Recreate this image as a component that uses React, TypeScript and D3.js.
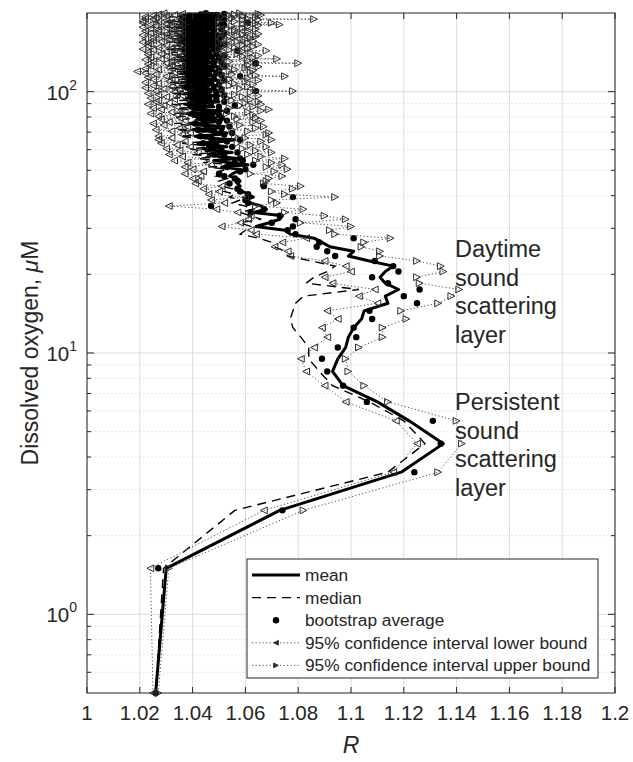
import React from 'react';
import * as d3 from 'd3';

// Oxygen bin centres (µM)
const oxygen = [
  0.5, 1.5, 2.5, 3.5, 4.5, 5.5, 6.5, 7.5, 8.5, 9.5,
  10.5, 11.5, 12.5, 13.5, 14.5, 15.5, 16.5, 17.5, 18.5, 19.5,
  20.5, 21.5, 22.5, 23.5, 24.5, 25.5, 26.5, 27.5, 28.5, 29.5,
  30.5, 31.5, 32.5, 33.5, 34.5, 35.5, 36.5, 37.5, 38.5, 39.5,
  40.5, 41.5, 42.5, 43.5, 44.5, 45.5, 46.5, 47.5, 48.5, 49.5,
  50.5, 51.5, 52.5, 53.5, 54.5, 55.5, 56.5, 57.5, 58.5, 59.5,
  60.5, 61.5, 62.5, 63.5, 64.5, 65.5, 66.5, 67.5, 68.5, 69.5,
  70.5, 71.5, 72.5, 73.5, 74.5, 75.5, 76.5, 77.5, 78.5, 79.5,
  80.5, 81.5, 82.5, 83.5, 84.5, 85.5, 86.5, 87.5, 88.5, 89.5,
  90.5, 91.5, 92.5, 93.5, 94.5, 95.5, 96.5, 97.5, 98.5, 99.5,
  100.5, 101.5, 102.5, 103.5, 104.5, 105.5, 106.5, 107.5, 108.5, 109.5,
  110.5, 111.5, 112.5, 113.5, 114.5, 115.5, 116.5, 117.5, 118.5, 119.5,
  120.5, 121.5, 122.5, 123.5, 124.5, 125.5, 126.5, 127.5, 128.5, 129.5,
  130.5, 131.5, 132.5, 133.5, 134.5, 135.5, 136.5, 137.5, 138.5, 139.5,
  140.5, 141.5, 142.5, 143.5, 144.5, 145.5, 146.5, 147.5, 148.5, 149.5,
  150.5, 151.5, 152.5, 153.5, 154.5, 155.5, 156.5, 157.5, 158.5, 159.5,
  160.5, 161.5, 162.5, 163.5, 164.5, 165.5, 166.5, 167.5, 168.5, 169.5,
  170.5, 171.5, 172.5, 173.5, 174.5, 175.5, 176.5, 177.5, 178.5, 179.5,
  180.5, 181.5, 182.5, 183.5, 184.5, 185.5, 186.5, 187.5, 188.5, 189.5,
  190.5, 191.5, 192.5, 193.5, 194.5, 195.5, 196.5, 197.5, 198.5, 199.5,
];

const meanR = [
  1.026, 1.030, 1.073, 1.119, 1.135, 1.122, 1.110, 1.097, 1.093, 1.095,
  1.098, 1.099, 1.101, 1.104, 1.105, 1.114, 1.113, 1.118, 1.113, 1.111,
  1.113, 1.116, 1.107, 1.099, 1.101, 1.092, 1.089, 1.086, 1.077, 1.075,
  1.064, 1.069, 1.073, 1.074, 1.063, 1.068, 1.066, 1.062, 1.060, 1.063,
  1.061, 1.059, 1.057, 1.058, 1.057, 1.058, 1.057, 1.054, 1.055, 1.057,
  1.058, 1.051, 1.061, 1.054, 1.048, 1.057, 1.050, 1.046, 1.055, 1.049,
  1.044, 1.053, 1.047, 1.042, 1.051, 1.056, 1.045, 1.041, 1.050, 1.053,
  1.046, 1.040, 1.049, 1.052, 1.043, 1.039, 1.048, 1.051, 1.042, 1.049,
  1.041, 1.048, 1.038, 1.046, 1.051, 1.042, 1.039, 1.048, 1.043, 1.037,
  1.045, 1.050, 1.040, 1.047, 1.038, 1.044, 1.050, 1.041, 1.037, 1.047,
  1.040, 1.049, 1.043, 1.036, 1.046, 1.039, 1.048, 1.041, 1.036, 1.045,
  1.050, 1.039, 1.046, 1.037, 1.044, 1.049, 1.040, 1.036, 1.047, 1.039,
  1.048, 1.041, 1.036, 1.045, 1.050, 1.038, 1.046, 1.037, 1.044, 1.049,
  1.039, 1.046, 1.036, 1.042, 1.048, 1.038, 1.044, 1.050, 1.037, 1.042,
  1.047, 1.037, 1.044, 1.050, 1.039, 1.035, 1.046, 1.041, 1.048, 1.037,
  1.044, 1.050, 1.038, 1.046, 1.035, 1.042, 1.048, 1.039, 1.045, 1.036,
  1.047, 1.039, 1.049, 1.042, 1.035, 1.044, 1.050, 1.038, 1.046, 1.041,
  1.036, 1.046, 1.041, 1.049, 1.038, 1.044, 1.035, 1.046, 1.040, 1.050,
  1.038, 1.044, 1.049, 1.036, 1.046, 1.041, 1.035, 1.044, 1.050, 1.039,
  1.046, 1.040, 1.049, 1.036, 1.044, 1.039, 1.047, 1.041, 1.050, 1.043,
];

const medianR = [
  1.026, 1.029, 1.056, 1.114, 1.128, 1.120, 1.107, 1.093, 1.088, 1.084,
  1.084, 1.081, 1.078, 1.077, 1.078, 1.079, 1.082, 1.103, 1.083, 1.086,
  1.091, 1.094, 1.085, 1.076, 1.075, 1.071, 1.070, 1.065, 1.058, 1.060,
  1.062, 1.058, 1.066, 1.062, 1.058, 1.063, 1.060, 1.055, 1.058, 1.054,
  1.056, 1.052, 1.055, 1.051, 1.054, 1.050, 1.053, 1.049, 1.052, 1.050,
  1.053, 1.046, 1.057, 1.044, 1.050, 1.042, 1.049, 1.040, 1.048, 1.043,
  1.039, 1.048, 1.042, 1.036, 1.046, 1.051, 1.041, 1.035, 1.045, 1.049,
  1.040, 1.034, 1.044, 1.048, 1.038, 1.033, 1.043, 1.047, 1.037, 1.045,
  1.035, 1.044, 1.033, 1.041, 1.047, 1.037, 1.034, 1.044, 1.038, 1.032,
  1.041, 1.046, 1.035, 1.043, 1.033, 1.040, 1.046, 1.036, 1.032, 1.043,
  1.035, 1.045, 1.038, 1.031, 1.042, 1.034, 1.044, 1.036, 1.031, 1.040,
  1.046, 1.034, 1.041, 1.032, 1.039, 1.045, 1.035, 1.031, 1.043, 1.034,
  1.044, 1.036, 1.031, 1.040, 1.046, 1.033, 1.042, 1.032, 1.039, 1.045,
  1.034, 1.041, 1.031, 1.037, 1.044, 1.033, 1.039, 1.046, 1.032, 1.037,
  1.043, 1.032, 1.039, 1.046, 1.034, 1.030, 1.041, 1.036, 1.044, 1.032,
  1.039, 1.046, 1.033, 1.041, 1.030, 1.037, 1.044, 1.034, 1.040, 1.031,
  1.043, 1.034, 1.045, 1.037, 1.030, 1.039, 1.046, 1.033, 1.041, 1.036,
  1.031, 1.041, 1.036, 1.045, 1.033, 1.039, 1.030, 1.041, 1.035, 1.046,
  1.033, 1.039, 1.045, 1.031, 1.041, 1.036, 1.030, 1.039, 1.046, 1.034,
  1.041, 1.035, 1.045, 1.031, 1.039, 1.034, 1.042, 1.036, 1.046, 1.038,
];

const bootstrapR = [
  1.026, 1.027, 1.074, 1.124, 1.134, 1.131, 1.106, 1.097, 1.091, 1.089,
  1.095, 1.102, 1.101, 1.108, 1.107, 1.125, 1.120, 1.126, 1.114, 1.108,
  1.118, 1.116, 1.109, 1.094, 1.091, 1.087, 1.088, 1.101, 1.079, 1.076,
  1.078, 1.070, 1.079, 1.073, 1.062, 1.067, 1.047, 1.061, 1.060, 1.078,
  1.061, 1.058, 1.057, 1.067, 1.054, 1.057, 1.056, 1.052, 1.050, 1.058,
  1.060, 1.053, 1.063, 1.056, 1.059, 1.058, 1.052, 1.048, 1.057, 1.051,
  1.046, 1.055, 1.049, 1.044, 1.053, 1.058, 1.047, 1.043, 1.052, 1.055,
  1.048, 1.042, 1.051, 1.054, 1.045, 1.041, 1.050, 1.053, 1.044, 1.051,
  1.043, 1.050, 1.040, 1.048, 1.053, 1.044, 1.041, 1.050, 1.056, 1.039,
  1.047, 1.052, 1.042, 1.049, 1.040, 1.046, 1.052, 1.043, 1.039, 1.049,
  1.064, 1.051, 1.045, 1.038, 1.048, 1.041, 1.050, 1.043, 1.038, 1.047,
  1.052, 1.041, 1.048, 1.039, 1.058, 1.051, 1.042, 1.038, 1.049, 1.041,
  1.050, 1.043, 1.038, 1.047, 1.052, 1.040, 1.048, 1.039, 1.064, 1.051,
  1.041, 1.048, 1.038, 1.044, 1.050, 1.040, 1.046, 1.052, 1.039, 1.044,
  1.049, 1.039, 1.046, 1.057, 1.041, 1.037, 1.048, 1.043, 1.050, 1.039,
  1.046, 1.052, 1.040, 1.048, 1.037, 1.044, 1.050, 1.041, 1.047, 1.038,
  1.049, 1.041, 1.051, 1.044, 1.037, 1.046, 1.052, 1.040, 1.048, 1.043,
  1.038, 1.048, 1.043, 1.051, 1.040, 1.046, 1.037, 1.048, 1.042, 1.052,
  1.040, 1.046, 1.051, 1.061, 1.048, 1.043, 1.037, 1.046, 1.052, 1.041,
  1.048, 1.042, 1.051, 1.038, 1.046, 1.041, 1.049, 1.043, 1.052, 1.045,
];

const lowerR = [
  1.025, 1.024, 1.067, 1.116, 1.125, 1.117, 1.098, 1.090, 1.083, 1.081,
  1.086, 1.091, 1.089, 1.095, 1.091, 1.110, 1.103, 1.109, 1.093, 1.090,
  1.100, 1.098, 1.090, 1.077, 1.076, 1.071, 1.074, 1.083, 1.064, 1.062,
  1.051, 1.058, 1.061, 1.062, 1.057, 1.049, 1.031, 1.052, 1.047, 1.060,
  1.046, 1.050, 1.044, 1.051, 1.041, 1.042, 1.040, 1.043, 1.037, 1.044,
  1.040, 1.037, 1.047, 1.038, 1.033, 1.045, 1.036, 1.031, 1.042, 1.035,
  1.030, 1.039, 1.034, 1.028, 1.037, 1.027, 1.032, 1.027, 1.036, 1.039,
  1.032, 1.026, 1.035, 1.038, 1.029, 1.025, 1.031, 1.037, 1.028, 1.035,
  1.027, 1.034, 1.024, 1.032, 1.037, 1.028, 1.025, 1.034, 1.029, 1.023,
  1.031, 1.026, 1.027, 1.033, 1.024, 1.030, 1.036, 1.027, 1.023, 1.033,
  1.026, 1.035, 1.029, 1.022, 1.032, 1.025, 1.034, 1.027, 1.022, 1.031,
  1.036, 1.025, 1.032, 1.023, 1.030, 1.035, 1.026, 1.022, 1.033, 1.019,
  1.034, 1.027, 1.022, 1.031, 1.036, 1.024, 1.032, 1.023, 1.030, 1.035,
  1.025, 1.032, 1.022, 1.028, 1.034, 1.024, 1.030, 1.036, 1.023, 1.028,
  1.033, 1.023, 1.030, 1.036, 1.025, 1.021, 1.032, 1.027, 1.034, 1.023,
  1.030, 1.036, 1.024, 1.023, 1.021, 1.028, 1.034, 1.025, 1.031, 1.022,
  1.033, 1.025, 1.035, 1.028, 1.021, 1.030, 1.036, 1.024, 1.032, 1.027,
  1.022, 1.032, 1.027, 1.035, 1.024, 1.030, 1.021, 1.032, 1.026, 1.036,
  1.024, 1.030, 1.035, 1.021, 1.032, 1.027, 1.021, 1.030, 1.036, 1.025,
  1.022, 1.026, 1.035, 1.022, 1.030, 1.025, 1.033, 1.027, 1.036, 1.029,
];

const upperR = [
  1.027, 1.031, 1.082, 1.133, 1.142, 1.140, 1.114, 1.105, 1.099, 1.098,
  1.103, 1.112, 1.112, 1.121, 1.119, 1.133, 1.138, 1.141, 1.126, 1.125,
  1.135, 1.134, 1.125, 1.111, 1.111, 1.104, 1.105, 1.115, 1.094, 1.092,
  1.100, 1.081, 1.098, 1.090, 1.075, 1.082, 1.064, 1.072, 1.070, 1.094,
  1.075, 1.070, 1.078, 1.081, 1.067, 1.068, 1.069, 1.074, 1.062, 1.071,
  1.076, 1.068, 1.074, 1.070, 1.064, 1.075, 1.066, 1.061, 1.070, 1.064,
  1.059, 1.068, 1.062, 1.057, 1.066, 1.070, 1.060, 1.056, 1.068, 1.069,
  1.061, 1.055, 1.064, 1.067, 1.058, 1.054, 1.063, 1.066, 1.057, 1.064,
  1.056, 1.063, 1.053, 1.061, 1.066, 1.069, 1.054, 1.063, 1.058, 1.066,
  1.060, 1.065, 1.055, 1.062, 1.053, 1.059, 1.065, 1.056, 1.052, 1.062,
  1.078, 1.064, 1.058, 1.051, 1.061, 1.054, 1.063, 1.056, 1.051, 1.060,
  1.065, 1.054, 1.061, 1.052, 1.075, 1.064, 1.055, 1.051, 1.062, 1.054,
  1.063, 1.056, 1.051, 1.060, 1.065, 1.053, 1.061, 1.052, 1.080, 1.064,
  1.054, 1.061, 1.051, 1.072, 1.063, 1.053, 1.059, 1.065, 1.052, 1.057,
  1.062, 1.052, 1.059, 1.068, 1.054, 1.050, 1.061, 1.056, 1.063, 1.052,
  1.059, 1.065, 1.053, 1.061, 1.050, 1.057, 1.063, 1.054, 1.060, 1.051,
  1.062, 1.054, 1.064, 1.057, 1.050, 1.059, 1.065, 1.053, 1.061, 1.056,
  1.051, 1.061, 1.056, 1.064, 1.053, 1.059, 1.050, 1.061, 1.055, 1.065,
  1.073, 1.059, 1.064, 1.070, 1.061, 1.056, 1.050, 1.059, 1.065, 1.086,
  1.061, 1.055, 1.064, 1.051, 1.059, 1.054, 1.066, 1.056, 1.065, 1.058,
];

const xTicks = [1, 1.02, 1.04, 1.06, 1.08, 1.1, 1.12, 1.14, 1.16, 1.18, 1.2];
const xTickLabels = ['1', '1.02', '1.04', '1.06', '1.08', '1.1', '1.12', '1.14', '1.16', '1.18', '1.2'];
const yTicks = [1, 10, 100];
const yTickExponents = ['0', '1', '2'];
const legendLabels = [
  'mean',
  'median',
  'bootstrap average',
  '95% confidence interval lower bound',
  '95% confidence interval upper bound',
];
const daytimeLines = ['Daytime', 'sound', 'scattering', 'layer'];
const persistentLines = ['Persistent', 'sound', 'scattering', 'layer'];

const FONT = 'Liberation Sans, Arial, Helvetica, sans-serif';
const AX = '#262626';
const CI_LINE = '#505050';
const CI_MARK = '#2e2e2e';

function triPath(dir: 'left' | 'right', s: number) {
  return dir === 'left'
    ? `M${-s},0L${s},${-s}L${s},${s}Z`
    : `M${s},0L${-s},${-s}L${-s},${s}Z`;
}

export default function App() {
  const W = 633;
  const H = 762;
  const L = 87, R = 615, T = 13, B = 693;
  const x = d3.scaleLinear().domain([1, 1.2]).range([L, R]);
  const y = d3.scaleLog().domain([0.5, 200]).range([B, T]);

  const mk = (vals: number[]) =>
    d3.line<number>().x((v) => x(v)).y((_, i) => y(oxygen[i]))(vals) || '';

  const minorTicks = y
    .ticks()
    .filter((t) => !yTicks.includes(t) && t > 0.5 && t < 200);

  const legX = 247, legY = 559, legW = 351, legH = 119;
  const rowY = (i: number) => 575 + i * 22.6;

  return (
    <svg
      width={W}
      height={H}
      style={{ position: 'absolute', left: 0, top: 0, background: '#fff' }}
      fontFamily={FONT}
    >
      <rect x={0} y={0} width={W} height={H} fill="#fff" />
      {/* grid */}
      {minorTicks.map((t) => (
        <line key={'mg' + t} x1={L} x2={R} y1={y(t)} y2={y(t)} stroke="#d4d4d4" strokeWidth={0.8} strokeDasharray="1.5,2.5" />
      ))}
      {yTicks.map((t) => (
        <line key={'yg' + t} x1={L} x2={R} y1={y(t)} y2={y(t)} stroke="#dcdcdc" strokeWidth={1} />
      ))}
      {xTicks.map((t) => (
        <line key={'xg' + t} x1={x(t)} x2={x(t)} y1={T} y2={B} stroke="#dcdcdc" strokeWidth={1} />
      ))}

      {/* data */}
      <path d={mk(meanR)} fill="none" stroke="#000" strokeWidth={3} strokeLinejoin="round" />
      <path d={mk(medianR)} fill="none" stroke="#000" strokeWidth={1.4} strokeDasharray="9,6" />
      {bootstrapR.map((v, i) => (
        <circle key={'b' + i} cx={x(v)} cy={y(oxygen[i])} r={3.2} fill="#000" />
      ))}
      <path d={mk(lowerR)} fill="none" stroke={CI_LINE} strokeWidth={1} strokeDasharray="1.2,2.3" />
      {lowerR.map((v, i) => (
        <path key={'l' + i} d={triPath('left', 3.4)} transform={`translate(${x(v)},${y(oxygen[i])})`} fill="none" stroke={CI_MARK} strokeWidth={1} />
      ))}
      <path d={mk(upperR)} fill="none" stroke={CI_LINE} strokeWidth={1} strokeDasharray="1.2,2.3" />
      {upperR.map((v, i) => (
        <path key={'u' + i} d={triPath('right', 3.4)} transform={`translate(${x(v)},${y(oxygen[i])})`} fill="none" stroke={CI_MARK} strokeWidth={1} />
      ))}

      {/* axes box */}
      <rect x={L} y={T} width={R - L} height={B - T} fill="none" stroke={AX} strokeWidth={1} />
      {xTicks.map((t) => (
        <g key={'xt' + t}>
          <line x1={x(t)} x2={x(t)} y1={B} y2={B - 6} stroke={AX} />
          <line x1={x(t)} x2={x(t)} y1={T} y2={T + 6} stroke={AX} />
        </g>
      ))}
      {yTicks.map((t) => (
        <g key={'yt' + t}>
          <line x1={L} x2={L + 7} y1={y(t)} y2={y(t)} stroke={AX} />
          <line x1={R} x2={R - 7} y1={y(t)} y2={y(t)} stroke={AX} />
        </g>
      ))}
      {minorTicks.map((t) => (
        <g key={'ymt' + t}>
          <line x1={L} x2={L + 4} y1={y(t)} y2={y(t)} stroke={AX} />
          <line x1={R} x2={R - 4} y1={y(t)} y2={y(t)} stroke={AX} />
        </g>
      ))}

      {/* tick labels */}
      {xTicks.map((t, i) => (
        <text key={'xl' + t} x={x(t)} y={720} textAnchor="middle" fontSize={20.5} fill={AX}>
          {xTickLabels[i]}
        </text>
      ))}
      {yTicks.map((t, i) => (
        <text key={'yl' + t} x={77} y={y(t) + 8} textAnchor="end" fontSize={20.5} fill={AX}>
          10
          <tspan dy={-10} fontSize={14}>{yTickExponents[i]}</tspan>
        </text>
      ))}

      {/* axis labels */}
      <text x={(L + R) / 2} y={753} textAnchor="middle" fontSize={23} fontStyle="italic" fill={AX}>R</text>
      <text transform={`translate(38,${(T + B) / 2}) rotate(-90)`} textAnchor="middle" fontSize={23} fill={AX}>
        Dissolved oxygen, <tspan fontStyle="italic">μ</tspan>M
      </text>

      {/* annotations */}
      {daytimeLines.map((s, i) => (
        <text key={'d' + i} x={455} y={257 + i * 28.5} fontSize={23.5} fill={AX}>{s}</text>
      ))}
      {persistentLines.map((s, i) => (
        <text key={'p' + i} x={455} y={410 + i * 28.7} fontSize={23.5} fill={AX}>{s}</text>
      ))}

      {/* legend */}
      <rect x={legX} y={legY} width={legW} height={legH} fill="#fff" stroke={AX} strokeWidth={1} />
      <line x1={252} x2={300} y1={rowY(0)} y2={rowY(0)} stroke="#000" strokeWidth={3} />
      <line x1={252} x2={300} y1={rowY(1)} y2={rowY(1)} stroke="#000" strokeWidth={1.4} strokeDasharray="9,6" />
      <circle cx={276} cy={rowY(2)} r={3.2} fill="#000" />
      <line x1={252} x2={300} y1={rowY(3)} y2={rowY(3)} stroke={CI_LINE} strokeWidth={1} strokeDasharray="1.2,2.3" />
      <path d={triPath('left', 2.4)} transform={`translate(276,${rowY(3)})`} fill={CI_MARK} stroke={CI_MARK} strokeWidth={0.9} />
      <line x1={252} x2={300} y1={rowY(4)} y2={rowY(4)} stroke={CI_LINE} strokeWidth={1} strokeDasharray="1.2,2.3" />
      <path d={triPath('right', 2.4)} transform={`translate(276,${rowY(4)})`} fill={CI_MARK} stroke={CI_MARK} strokeWidth={0.9} />
      {legendLabels.map((s, i) => (
        <text key={'lg' + i} x={305} y={rowY(i) + 6} fontSize={17.3} fill={AX}>{s}</text>
      ))}
    </svg>
  );
}
